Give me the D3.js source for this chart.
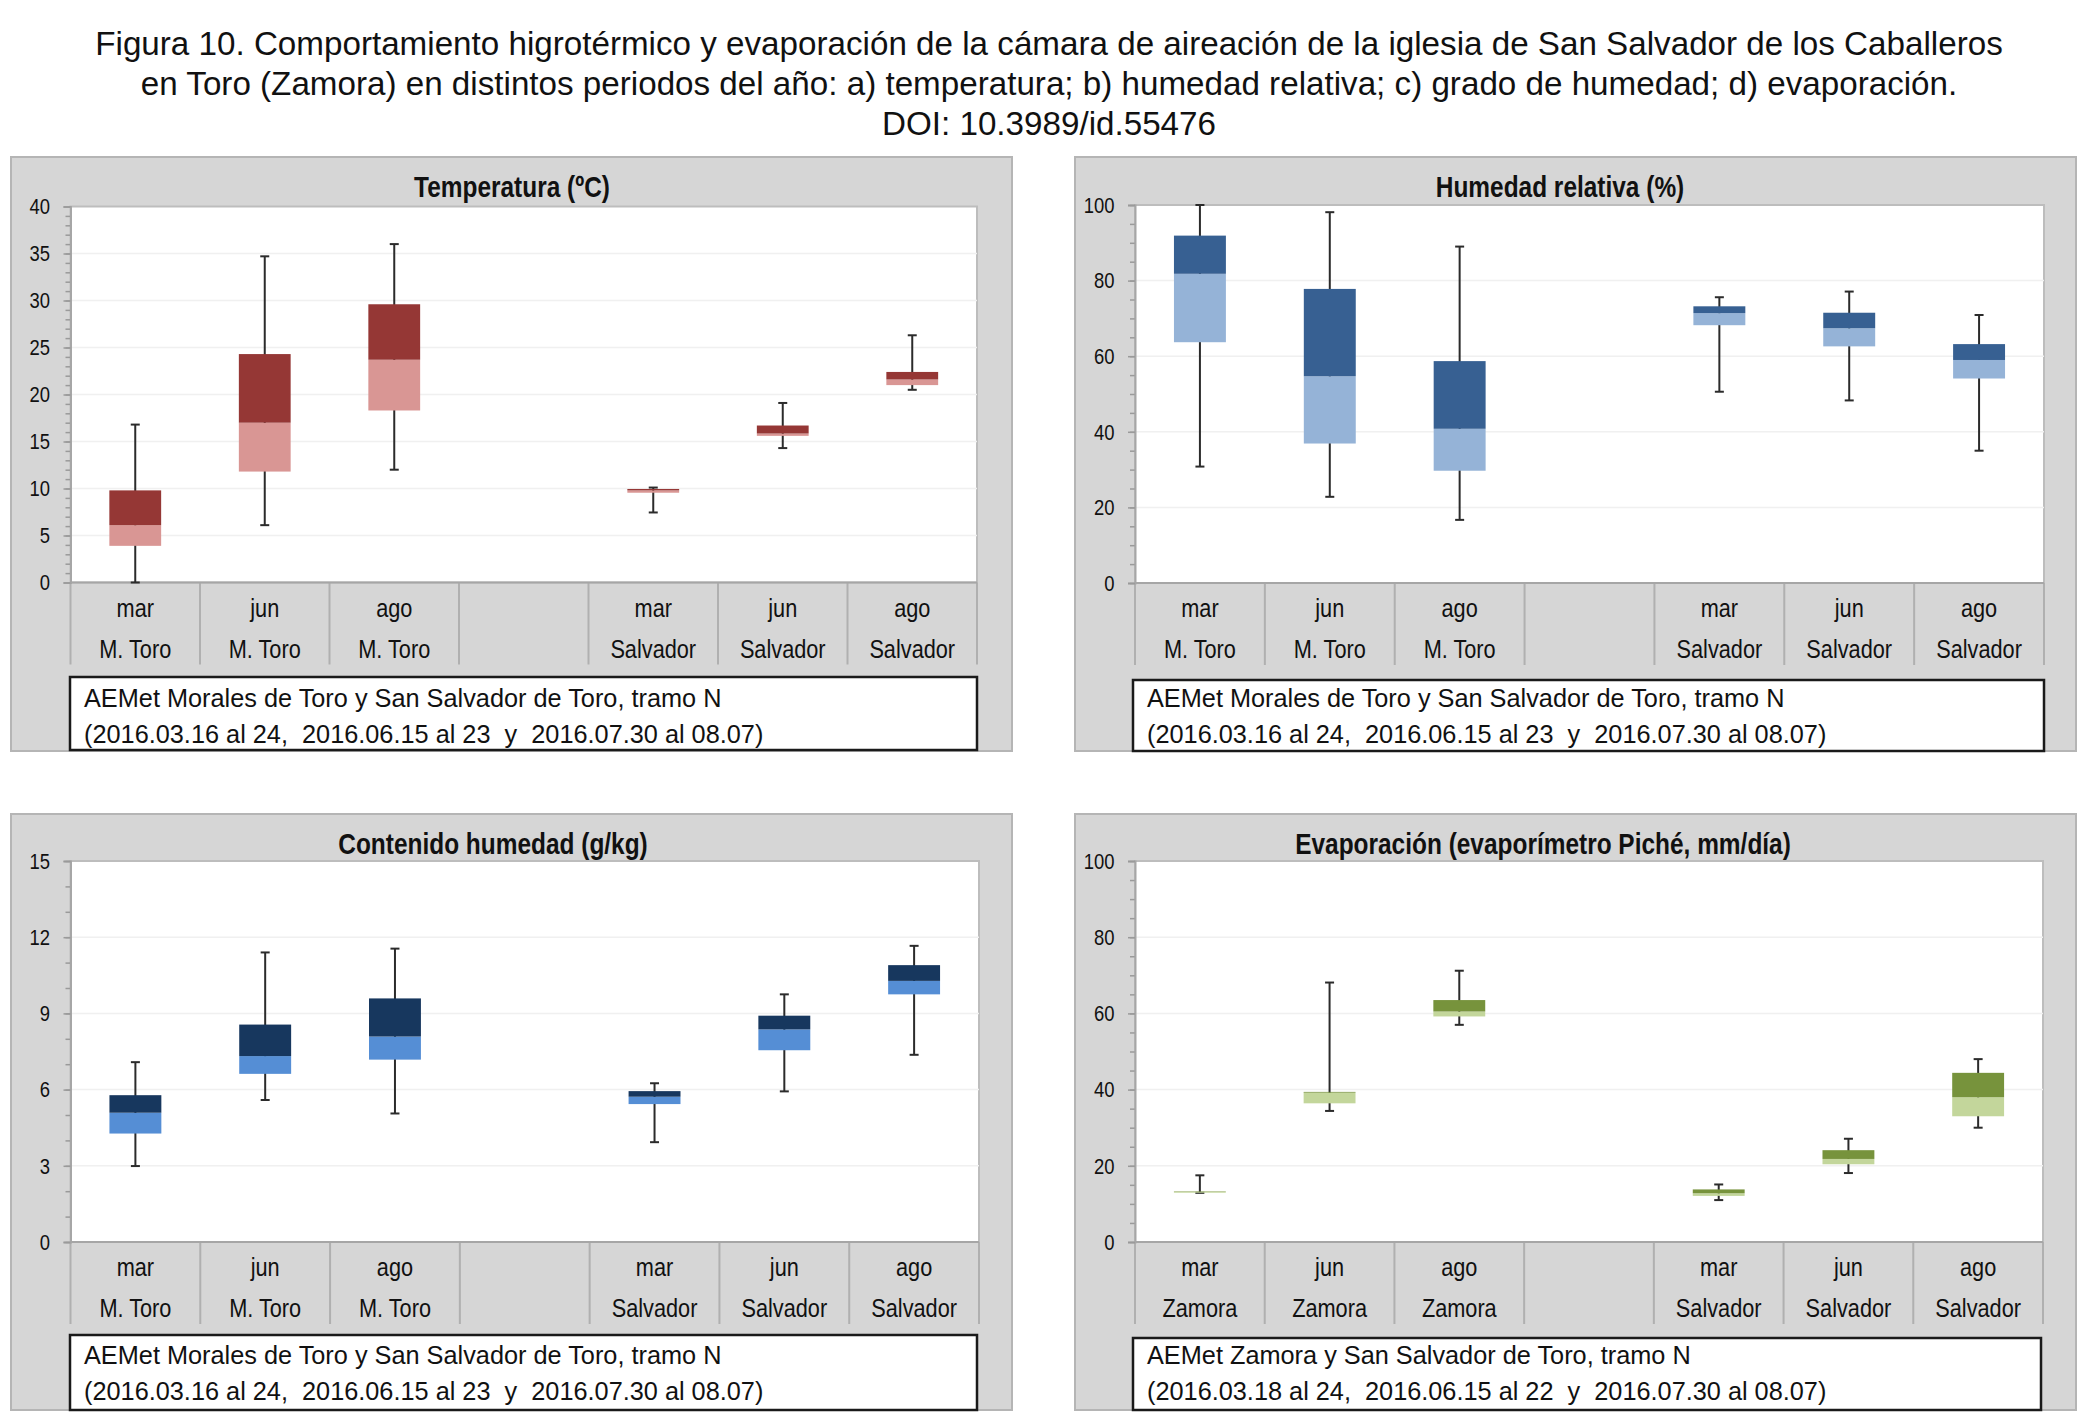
<!DOCTYPE html>
<html>
<head>
<meta charset="utf-8">
<script src="https://cdn.jsdelivr.net/npm/d3@7"></script>
<style>
  body { margin: 0; background: #fff; }
  svg { display: block; }
  text { white-space: pre; font-family: "Liberation Sans", Arial, Helvetica, sans-serif; }
</style>
</head>
<body>
<svg id="chart" width="2086" height="1417"></svg>
<script>
// figure title
const titleLines = [
  "Figura 10. Comportamiento higrotérmico y evaporación de la cámara de aireación de la iglesia de San Salvador de los Caballeros",
  "en Toro (Zamora) en distintos periodos del año: a) temperatura; b) humedad relativa; c) grado de humedad; d) evaporación.",
  "DOI: 10.3989/id.55476"
];

// categories (slot 4 is empty)
const months = ["mar", "jun", "ago", "", "mar", "jun", "ago"];
const stationsToro = ["M. Toro", "M. Toro", "M. Toro", "", "Salvador", "Salvador", "Salvador"];
const stationsZamora = ["Zamora", "Zamora", "Zamora", "", "Salvador", "Salvador", "Salvador"];

// a) temperatura (ºC)
const tempMin = [0, 6.1, 12.0, null, 7.45, 14.3, 20.5];
const tempQ1  = [3.9, 11.8, 18.3, null, 9.55, 15.6, 21.0];
const tempMed = [6.1, 17.0, 23.7, null, 9.8, 15.85, 21.6];
const tempQ3  = [9.8, 24.3, 29.6, null, 9.95, 16.7, 22.4];
const tempMax = [16.8, 34.7, 36.0, null, 10.1, 19.1, 26.3];

// b) humedad relativa (%)
const humMin = [30.8, 22.8, 16.7, null, 50.6, 48.3, 35.0];
const humQ1  = [63.7, 36.9, 29.7, null, 68.2, 62.6, 54.1];
const humMed = [81.8, 54.7, 40.8, null, 71.4, 67.4, 59.0];
const humQ3  = [91.9, 77.8, 58.7, null, 73.2, 71.5, 63.2];
const humMax = [100, 98.1, 89.0, null, 75.6, 77.1, 70.9];

// c) contenido de humedad (g/kg)
const contMin = [2.99, 5.59, 5.06, null, 3.93, 5.93, 7.37];
const contQ1  = [4.27, 6.62, 7.18, null, 5.43, 7.55, 9.75];
const contMed = [5.09, 7.32, 8.09, null, 5.72, 8.37, 10.28];
const contQ3  = [5.78, 8.56, 9.59, null, 5.94, 8.91, 10.90];
const contMax = [7.08, 11.40, 11.55, null, 6.25, 9.75, 11.66];

// d) evaporación (mm/día)
const evapMin = [12.9, 34.4, 57.0, null, 11.0, 18.1, 30.0];
const evapQ1  = [13.1, 36.4, 59.2, null, 12.1, 20.4, 33.0];
const evapMed = [13.2, 39.2, 60.5, null, 12.8, 21.8, 38.0];
const evapQ3  = [13.3, 39.4, 63.5, null, 13.8, 24.1, 44.4];
const evapMax = [17.5, 68.1, 71.2, null, 15.1, 27.1, 48.0];

// axis ticks
const tempTicks = [0, 5, 10, 15, 20, 25, 30, 35, 40];
const humTicks = [0, 20, 40, 60, 80, 100];
const contTicks = [0, 3, 6, 9, 12, 15];
const evapTicks = [0, 20, 40, 60, 80, 100];

const legendToro = ["AEMet Morales de Toro y San Salvador de Toro, tramo N",
                    "(2016.03.16 al 24,  2016.06.15 al 23  y  2016.07.30 al 08.07)"];
const legendZamora = ["AEMet Zamora y San Salvador de Toro, tramo N",
                      "(2016.03.18 al 24,  2016.06.15 al 22  y  2016.07.30 al 08.07)"];

const panels = [
  { title: "Temperatura (ºC)", min: tempMin, q1: tempQ1, med: tempMed, q3: tempQ3, max: tempMax,
    ticks: tempTicks, minor: 1, stations: stationsToro, legend: legendToro,
    dark: "#953735", light: "#d99694",
    box: [11, 157, 1012, 751], plot: [70.5, 206.5, 977, 582.5], leg: [70, 677, 977, 750], titleX: 512 },
  { title: "Humedad relativa (%)", min: humMin, q1: humQ1, med: humMed, q3: humQ3, max: humMax,
    ticks: humTicks, minor: 5, stations: stationsToro, legend: legendToro,
    dark: "#376092", light: "#95b3d7",
    box: [1075, 157, 2076, 751], plot: [1135, 205, 2044, 583], leg: [1133, 680, 2044, 751], titleX: 1560 },
  { title: "Contenido humedad (g/kg)", min: contMin, q1: contQ1, med: contMed, q3: contQ3, max: contMax,
    ticks: contTicks, minor: 1, stations: stationsToro, legend: legendToro,
    dark: "#17375e", light: "#558ed5",
    box: [11, 814, 1012, 1410], plot: [70.5, 861, 979, 1242], leg: [70, 1335, 977, 1410], titleX: 493 },
  { title: "Evaporación (evaporímetro Piché, mm/día)", min: evapMin, q1: evapQ1, med: evapMed, q3: evapQ3, max: evapMax,
    ticks: evapTicks, minor: 5, stations: stationsZamora, legend: legendZamora,
    dark: "#77933c", light: "#c3d69b",
    box: [1075, 814, 2076, 1410], plot: [1135, 861, 2043, 1242], leg: [1133, 1338, 2041, 1410], titleX: 1543 }
];

const NARROW = 0.82; // Arial Narrow look from a squeezed Liberation Sans

const svg = d3.select("#chart");

svg.append("g").selectAll("text")
  .data(titleLines)
  .join("text")
  .attr("x", 1049)
  .attr("y", (d, i) => 55 + i * 40)
  .attr("text-anchor", "middle")
  .attr("font-size", 33.2)
  .attr("fill", "#111")
  .text(d => d);

panels.forEach(drawPanel);

function narrowText(g, x, y, str, size, anchor, bold) {
  return g.append("text")
    .attr("transform", `translate(${x},${y}) scale(${NARROW},1)`)
    .attr("text-anchor", anchor)
    .attr("font-size", size)
    .attr("font-weight", bold ? "bold" : "normal")
    .attr("fill", "#111")
    .text(str);
}

function drawPanel(p) {
  const [bx0, by0, bx1, by1] = p.box;
  const [px0, py0, px1, py1] = p.plot;
  const g = svg.append("g");

  g.append("rect")
    .attr("x", bx0).attr("y", by0)
    .attr("width", bx1 - bx0).attr("height", by1 - by0)
    .attr("fill", "#d6d6d6").attr("stroke", "#b5b5b5").attr("stroke-width", 2);

  narrowText(g, p.titleX, by0 + 40, p.title, 29.8, "middle", true);

  const idx = d3.range(months.length);
  const slot = d3.scaleBand().domain(idx).range([px0, px1]);
  const x = d3.scaleBand().domain(idx).range([px0, px1]).paddingInner(0.6).paddingOuter(0.3);
  const yMax = p.ticks[p.ticks.length - 1];
  const y = d3.scaleLinear().domain([0, yMax]).range([py1, py0]);

  // plot area
  g.append("rect")
    .attr("x", px0).attr("y", py0)
    .attr("width", px1 - px0).attr("height", py1 - py0)
    .attr("fill", "#fff").attr("stroke", "#bdbdbd").attr("stroke-width", 2);

  // faint gridlines
  g.append("g").selectAll("line")
    .data(p.ticks.slice(1, -1))
    .join("line")
    .attr("x1", px0).attr("x2", px1)
    .attr("y1", d => y(d)).attr("y2", d => y(d))
    .attr("stroke", "#f0f0f0").attr("stroke-width", 1.5);

  // category band separators
  const bandBottom = py1 + 82;
  g.append("g").selectAll("line")
    .data(d3.range(months.length + 1))
    .join("line")
    .attr("x1", i => i < months.length ? slot(i) : px1)
    .attr("x2", i => i < months.length ? slot(i) : px1)
    .attr("y1", py1).attr("y2", bandBottom)
    .attr("stroke", "#b0b0b0").attr("stroke-width", 2);

  // category labels (two rows)
  idx.forEach(i => {
    const cxSlot = slot(i) + slot.bandwidth() / 2;
    narrowText(g, cxSlot, py1 + 34, months[i], 26.5, "middle", false);
    narrowText(g, cxSlot, py1 + 75, p.stations[i], 26.5, "middle", false);
  });

  // y axis: minor ticks then major ticks with labels
  const minorVals = d3.range(0, yMax + p.minor / 2, p.minor);
  const minorAxis = g.append("g")
    .attr("transform", `translate(${px0},0)`)
    .call(d3.axisLeft(y).tickValues(minorVals).tickSize(5).tickFormat(""));
  minorAxis.select(".domain").remove();
  minorAxis.selectAll("line").attr("stroke", "#9a9a9a").attr("stroke-width", 1.5);

  const majorAxis = g.append("g")
    .attr("transform", `translate(${px0},0)`)
    .call(d3.axisLeft(y).tickValues(p.ticks).tickSize(7).tickPadding(13));
  majorAxis.attr("font-family", null);
  majorAxis.select(".domain").attr("stroke", "#a6a6a6").attr("stroke-width", 2);
  majorAxis.selectAll("line").attr("stroke", "#9a9a9a").attr("stroke-width", 1.5);
  majorAxis.selectAll("text")
    .attr("transform", `scale(${NARROW},1)`)
    .attr("x", -20.5 / NARROW)
    .attr("font-size", 22.5)
    .attr("fill", "#111");

  // bottom axis line
  g.append("line")
    .attr("x1", px0).attr("x2", px1)
    .attr("y1", py1).attr("y2", py1)
    .attr("stroke", "#a6a6a6").attr("stroke-width", 2);

  const rows = idx.filter(i => p.med[i] !== null);
  const cx = i => x(i) + x.bandwidth() / 2;

  // whiskers
  const wh = g.append("g").attr("stroke", "#2b2b2b").attr("stroke-width", 2);
  wh.selectAll("line.stem")
    .data(rows)
    .join("line")
    .attr("class", "stem")
    .attr("x1", cx).attr("x2", cx)
    .attr("y1", i => y(p.max[i])).attr("y2", i => y(p.min[i]));
  wh.selectAll("line.capTop")
    .data(rows)
    .join("line")
    .attr("class", "capTop")
    .attr("x1", i => cx(i) - 4.5).attr("x2", i => cx(i) + 4.5)
    .attr("y1", i => y(p.max[i])).attr("y2", i => y(p.max[i]));
  wh.selectAll("line.capBot")
    .data(rows)
    .join("line")
    .attr("class", "capBot")
    .attr("x1", i => cx(i) - 4.5).attr("x2", i => cx(i) + 4.5)
    .attr("y1", i => y(p.min[i])).attr("y2", i => y(p.min[i]));

  // boxes: lower half light, upper half dark
  g.append("g").selectAll("rect")
    .data(rows)
    .join("rect")
    .attr("x", i => x(i)).attr("width", x.bandwidth())
    .attr("y", i => y(p.med[i]))
    .attr("height", i => Math.max(1, y(p.q1[i]) - y(p.med[i])))
    .attr("fill", p.light);
  g.append("g").selectAll("rect")
    .data(rows)
    .join("rect")
    .attr("x", i => x(i)).attr("width", x.bandwidth())
    .attr("y", i => y(p.q3[i]))
    .attr("height", i => y(p.med[i]) - y(p.q3[i]))
    .attr("fill", p.dark);

  // legend box
  const [lx0, ly0, lx1, ly1] = p.leg;
  g.append("rect")
    .attr("x", lx0).attr("y", ly0)
    .attr("width", lx1 - lx0).attr("height", ly1 - ly0)
    .attr("fill", "#fff").attr("stroke", "#1a1a1a").attr("stroke-width", 2.5);
  g.append("g").selectAll("text")
    .data(p.legend)
    .join("text")
    .attr("x", lx0 + 14)
    .attr("y", (d, i) => by0 + 550 + i * 36)
    .attr("font-size", 25.3)
    .attr("fill", "#111")
    .text(d => d);
}
</script>
</body>
</html>
